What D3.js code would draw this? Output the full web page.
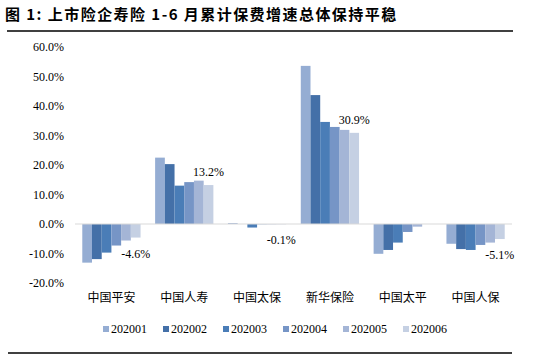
<!DOCTYPE html>
<html><head><meta charset="utf-8">
<script src="https://cdn.jsdelivr.net/npm/d3@7/dist/d3.min.js"></script>
<style>body{margin:0;background:#fff}svg{display:block}</style>
</head><body>
<svg id="c" width="533" height="355"></svg>
<script>
const title = "图 1:  上市险企寿险 1-6 月累计保费增速总体保持平稳";
const categories = ["中国平安","中国人寿","中国太保","新华保险","中国太平","中国人保"];
const seriesNames = ["202001","202002","202003","202004","202005","202006"];
const s202001 = [-13.1, 22.5, 0.3, 53.6, -10.1, -6.7];
const s202002 = [-11.9, 20.3, 0.0, 43.7, -8.8, -8.5];
const s202003 = [-9.7, 13.0, -1.2, 34.6, -6.3, -8.8];
const s202004 = [-7.3, 14.2, -0.1, 32.9, -2.7, -7.1];
const s202005 = [-5.6, 14.7, -0.1, 31.9, -0.9, -6.3];
const s202006 = [-4.6, 13.2, -0.1, 30.9, null, -5.1];
const seriesValues = [s202001, s202002, s202003, s202004, s202005, s202006];
const colors = ["#95ADD3","#4470A8","#4A7DB7","#7695C6","#A4B5D6","#C5D0E3"];
const yTicks = [-20,-10,0,10,20,30,40,50,60];

const svg = d3.select("#c");
const serif = "'Liberation Serif','Times New Roman',serif";
const cjk = "'Noto Sans CJK SC','Noto Sans',sans-serif";

svg.append("text").attr("x",5).attr("y",20).attr("font-family",cjk)
  .attr("font-weight","bold").attr("font-size",15).attr("letter-spacing",1.45)
  .attr("fill","#000").text(title);
svg.append("line").attr("x1",7).attr("x2",513).attr("y1",31).attr("y2",31).attr("stroke","#000").attr("stroke-width",1.5);
svg.append("line").attr("x1",8).attr("x2",512).attr("y1",353).attr("y2",353).attr("stroke","#000").attr("stroke-width",1.5);

const y = d3.scaleLinear().domain([-20,60]).range([283,47]);
const x0 = d3.scaleBand().domain(categories).range([75,512]).paddingInner(0.2).paddingOuter(0.1);
const x1 = d3.scaleBand().domain(seriesNames).range([0,x0.bandwidth()]);

const yAxis = d3.axisLeft(y).tickValues(yTicks).tickSize(0).tickPadding(0)
  .tickFormat(d=>d.toFixed(1)+"%");
const ga = svg.append("g").attr("transform","translate(64,0)").call(yAxis)
  .attr("font-family",serif);
ga.select(".domain").remove();
ga.selectAll("text").attr("font-family",serif).attr("font-size",12).attr("fill","#000");

const groups = svg.append("g").selectAll("g").data(categories).join("g")
  .attr("transform",c=>`translate(${x0(c)},0)`);
groups.selectAll("rect")
  .data((c,i)=>seriesNames.map((s,j)=>({s,v:seriesValues[j][i],j})).filter(d=>d.v!==null))
  .join("rect")
  .attr("x",d=>x1(d.s)).attr("width",x1.bandwidth())
  .attr("y",d=>y(Math.max(0,d.v))).attr("height",d=>Math.abs(y(d.v)-y(0)))
  .attr("fill",d=>colors[d.j]);

svg.append("line").attr("x1",75).attr("x2",512).attr("y1",y(0)).attr("y2",y(0))
  .attr("stroke","#d9d9d9").attr("stroke-width",1);

// data labels for last series
const last = seriesNames.length-1;
const labelData = categories.map((c,i)=>({c,v:seriesValues[last][i]})).filter(d=>d.v!==null);
svg.append("g").selectAll("text").data(labelData).join("text")
  .attr("x",d=>x0(d.c)+x1(seriesNames[last])+x1.bandwidth()/2)
  .attr("y",d=>d.v>=0? y(d.v)-9 : Math.max(y(d.v),y(0))+20)
  .attr("text-anchor","middle").attr("font-family",serif).attr("font-size",12).attr("fill","#000")
  .text(d=>d.v.toFixed(1)+"%");

// category labels
const xAxis = d3.axisBottom(x0).tickSize(0).tickPadding(0);
const gx = svg.append("g").attr("transform","translate(0,294)").call(xAxis);
gx.select(".domain").remove();
gx.selectAll("text").attr("font-family",cjk).attr("font-size",12).attr("fill","#000").attr("dy","0.7em");

// legend
const leg = svg.append("g").selectAll("g").data(seriesNames).join("g")
  .attr("transform",(d,i)=>`translate(${103+i*60},329)`);
leg.append("rect").attr("x",0).attr("y",-3).attr("width",6).attr("height",6).attr("fill",(d,i)=>colors[i]);
leg.append("text").attr("x",8).attr("y",0).attr("dy","0.35em").attr("font-family",serif)
  .attr("font-size",12).attr("fill","#000").text(d=>d);
</script>
</body></html>
